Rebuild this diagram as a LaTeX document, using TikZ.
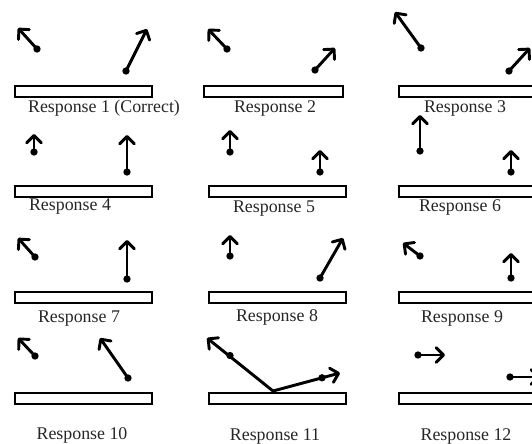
\documentclass[tikz,border=0pt]{standalone}
\usepackage{fontspec}
\setmainfont{Liberation Serif}
\usetikzlibrary{arrows.meta}
\begin{document}
\begin{tikzpicture}[x=0.75pt,y=-0.75pt,
  barbox/.style={draw, line width=1.5pt, fill=white, inner sep=0pt, minimum height=8pt, anchor=north west},
  lab/.style={anchor=base, inner sep=0pt, text=black!85, font=\fontsize{13.4}{16}\selectfont},
  dot/.style={circle, fill, inner sep=0pt, minimum size=5.5pt},
  vec/.style={line width=2.2pt, line cap=round, -{Straight Barb[length=5.5pt, width=11pt, line cap=round, line join=round]}}]
\useasboundingbox (0,0) rectangle (532,443);
% bars
\node[barbox, minimum width=102.75pt] (b1) at (14,85) {};
\node[barbox, minimum width=104.25pt] (b2) at (203,85) {};
\node[barbox, minimum width=108pt] (b3) at (398,85) {};
\node[barbox, minimum width=102.75pt] (b4) at (14,185) {};
\node[barbox, minimum width=102.75pt] (b5) at (208,185) {};
\node[barbox, minimum width=108pt] (b6) at (398,185) {};
\node[barbox, minimum width=102.75pt] (b7) at (14,291) {};
\node[barbox, minimum width=102.75pt] (b8) at (208,291) {};
\node[barbox, minimum width=108pt] (b9) at (398,291) {};
\node[barbox, minimum width=102.75pt] (b10) at (14,392) {};
\node[barbox, minimum width=102.75pt] (b11) at (208,392) {};
\node[barbox, minimum width=108pt] (b12) at (398,392) {};
% labels
\node[lab] (l1) at (104,112) {Response 1 (Correct)};
\node[lab] (l2) at (275,112) {Response 2};
\node[lab] (l3) at (465,112) {Response 3};
\node[lab] (l4) at (70,210) {Response 4};
\node[lab] (l5) at (274,212) {Response 5};
\node[lab] (l6) at (460,211) {Response 6};
\node[lab] (l7) at (79,322) {Response 7};
\node[lab] (l8) at (277,321) {Response 8};
\node[lab] (l9) at (462,322) {Response 9};
\node[lab] (l10) at (82,439) {Response 10};
\node[lab] (l11) at (275,440) {Response 11};
\node[lab] (l12) at (466,440) {Response 12};
% tails (dots) and heads
\node[dot] (t1a) at (37,49) {};   \coordinate (h1a) at (18,28);
\node[dot] (t1b) at (126,71) {};  \coordinate (h1b) at (147,29);
\node[dot] (t2a) at (227,49) {};  \coordinate (h2a) at (208,29);
\node[dot] (t2b) at (315,70) {};  \coordinate (h2b) at (335,48);
\node[dot] (t3a) at (421,48) {};  \coordinate (h3a) at (395,12);
\node[dot] (t3b) at (509,71) {};  \coordinate (h3b) at (530,48);
\node[dot] (t4a) at (34,152) {};  \coordinate (h4a) at (34,134);
\node[dot] (t4b) at (127,172) {}; \coordinate (h4b) at (127,135);
\node[dot] (t5a) at (230,152) {}; \coordinate (h5a) at (230,130);
\node[dot] (t5b) at (320,172) {}; \coordinate (h5b) at (320,150);
\node[dot] (t6a) at (420,151) {}; \coordinate (h6a) at (420,115);
\node[dot] (t6b) at (511,172) {}; \coordinate (h6b) at (511,150);
\node[dot] (t7a) at (35,257) {};  \coordinate (h7a) at (18,238);
\node[dot] (t7b) at (127,279) {}; \coordinate (h7b) at (127,240);
\node[dot] (t8a) at (230,256) {}; \coordinate (h8a) at (230,235);
\node[dot] (t8b) at (320,278) {}; \coordinate (h8b) at (343,238);
\node[dot] (t9a) at (420,256) {}; \coordinate (h9a) at (403,243);
\node[dot] (t9b) at (511,278) {}; \coordinate (h9b) at (511,253);
\node[dot] (t10a) at (35,356) {}; \coordinate (h10a) at (18,338);
\node[dot] (t10b) at (128,378) {}; \coordinate (h10b) at (100,338);
\coordinate (o11) at (273,391);
\coordinate (h11a) at (207,338);
\coordinate (h11b) at (340,373);
\node[dot] (d11a) at (230,355.5) {};
\node[dot] (d11b) at (322,377.8) {};
\node[dot] (t12a) at (418,355) {}; \coordinate (h12a) at (445,355);
\node[dot] (t12b) at (510,377) {}; \coordinate (h12b) at (540,377);
% arrows
\foreach \n in {1a,1b,2a,2b,3a,3b,4a,4b,5a,5b,6a,6b,7a,7b,8a,8b,9a,9b,10a,10b,12a,12b}
  \draw[vec] (t\n.center) -- (h\n);
\draw[vec] (o11) -- (h11a);
\draw[vec] (o11) -- (h11b);
\end{tikzpicture}
\end{document}
